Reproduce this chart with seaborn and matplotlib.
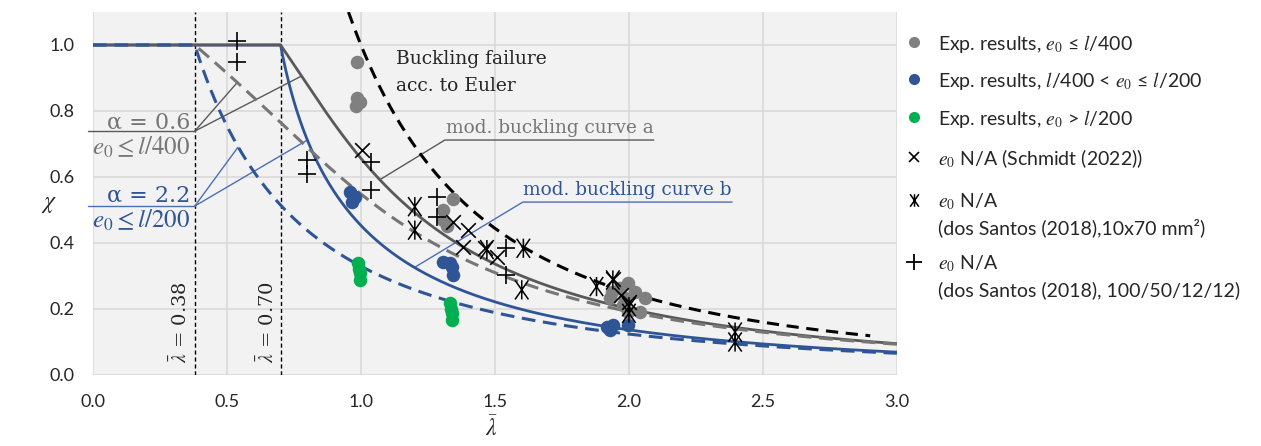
import numpy as np
import pandas as pd
import matplotlib
matplotlib.use("Agg")
import matplotlib.pyplot as plt
import seaborn as sns
from matplotlib.lines import Line2D
from matplotlib.path import Path

gray_lam = [0.986, 0.986, 0.996, 0.981, 1.345, 1.307, 1.307, 1.320,
            1.997, 1.966, 1.935, 1.929, 2.022, 2.060, 1.979, 2.040, 1.997, 1.985]
gray_chi = [0.949, 0.838, 0.828, 0.815, 0.532, 0.500, 0.470, 0.450,
            0.278, 0.263, 0.252, 0.232, 0.252, 0.232, 0.212, 0.192, 0.192, 0.232]

blue_lam = [0.959, 0.978, 0.965, 1.307, 1.332, 1.345, 1.338, 1.917, 1.940, 1.997, 1.930]
blue_chi = [0.556, 0.540, 0.525, 0.343, 0.338, 0.303, 0.328, 0.146, 0.152, 0.152, 0.136]

green_lam = [0.990, 0.996, 0.996, 0.993, 1.332, 1.338, 1.338, 1.335]
green_chi = [0.338, 0.308, 0.288, 0.320, 0.217, 0.187, 0.167, 0.200]

schmidt_lam = [1.003, 1.345, 1.400, 1.382, 1.463, 1.506, 1.940, 1.972, 2.000]
schmidt_chi = [0.682, 0.465, 0.440, 0.389, 0.384, 0.359, 0.290, 0.242, 0.220]

santos_a_lam = [1.201, 1.201, 1.470, 1.606, 1.600, 1.879, 1.940, 2.000, 2.000, 2.396, 2.396]
santos_a_chi = [0.510, 0.439, 0.380, 0.384, 0.258, 0.268, 0.288, 0.207, 0.187, 0.130, 0.100]

santos_b_lam = [0.538, 0.538, 0.800, 0.800, 1.036, 1.036, 1.282, 1.282, 1.543, 1.543]
santos_b_chi = [1.013, 0.949, 0.650, 0.610, 0.646, 0.560, 0.540, 0.480, 0.384, 0.303]

# --- design curve parameters (as labelled in the figure) ---------------------
alpha_a = 0.6
alpha_b = 2.2
lam0_short = 0.38
lam0_long = 0.70
euler_end = 2.9

GRAY = "#595959"
GRAY_D = "#767676"
BLUE = "#2F5597"
BLUE_L = "#4A6FB5"
GREEN = "#00B050"
DOT_GRAY = "#808080"


def buckling_curve(lam, alpha, lam0):
    phi = 0.5 * (1 + alpha * (lam - lam0) + lam ** 2)
    chi = 1.0 / (phi + np.sqrt(np.maximum(phi ** 2 - lam ** 2, 0)))
    return np.where(lam <= lam0, 1.0, np.minimum(chi, 1.0))


sns.set_theme(style="whitegrid", rc={
    "axes.facecolor": "#F2F2F2",
    "grid.color": "#D9D9D9",
    "grid.linewidth": 1.2,
    "axes.edgecolor": "#D9D9D9",
})
plt.rcParams["font.family"] = ["Lato", "DejaVu Sans"]

fig = plt.figure(figsize=(12.61, 4.46), dpi=100)
ax = fig.add_axes([0.0737, 0.1592, 0.6376, 0.8139])
for s in ax.spines.values():
    s.set_visible(False)

lam = np.linspace(0, 3.0, 901)
curves = pd.DataFrame({
    "lam": lam,
    "b_solid": buckling_curve(lam, alpha_b, lam0_long),
    "a_solid": buckling_curve(lam, alpha_a, lam0_long),
    "a_dash": buckling_curve(lam, alpha_a, lam0_short),
    "b_dash": buckling_curve(lam, alpha_b, lam0_short),
})
lam_e = np.linspace(1 / np.sqrt(1.1), euler_end, 400)
euler = pd.DataFrame({"lam": lam_e, "chi": 1 / lam_e ** 2})

sns.lineplot(data=curves, x="lam", y="b_solid", color=BLUE, lw=2, ax=ax, zorder=3)
sns.lineplot(data=curves, x="lam", y="a_solid", color=GRAY, lw=2, ax=ax, zorder=3)
sns.lineplot(data=curves, x="lam", y="a_dash", color=GRAY_D, lw=2.2, ax=ax, zorder=3,
             linestyle=(0, (4.5, 2.5)))
sns.lineplot(data=curves, x="lam", y="b_dash", color=BLUE, lw=2.2, ax=ax, zorder=3,
             linestyle=(0, (4.5, 2.5)))
sns.lineplot(data=euler, x="lam", y="chi", color="black", lw=2.2, ax=ax, zorder=3,
             linestyle=(0, (4, 2.5)))

# vertical limits of the plateau
for xv in (lam0_short, lam0_long):
    ax.axvline(xv, color="black", lw=1, linestyle=(0, (3, 2)), zorder=2)

# --- scatter points ----------------------------------------------------------
ast_path = Path([(-0.7, -1), (0.7, 1), (-0.7, 1), (0.7, -1), (0, -1), (0, 1)],
                [Path.MOVETO, Path.LINETO, Path.MOVETO, Path.LINETO, Path.MOVETO, Path.LINETO])

sns.scatterplot(x=gray_lam, y=gray_chi, color=DOT_GRAY, s=95, linewidth=0, ax=ax, zorder=4)
sns.scatterplot(x=blue_lam, y=blue_chi, color=BLUE, s=95, linewidth=0, ax=ax, zorder=4)
sns.scatterplot(x=green_lam, y=green_chi, color=GREEN, s=95, linewidth=0, ax=ax, zorder=4)
sns.scatterplot(x=schmidt_lam, y=schmidt_chi, marker="x", color="black", s=110,
                linewidth=1.2, ax=ax, zorder=5)
ax.scatter(santos_a_lam, santos_a_chi, marker=ast_path, facecolors="none",
           edgecolors="black", s=190, linewidths=1.1, zorder=5)
sns.scatterplot(x=santos_b_lam, y=santos_b_chi, marker="+", color="black", s=150,
                linewidth=1.2, ax=ax, zorder=5)

ax.set_xlim(0, 3.0)
ax.set_ylim(0, 1.1)
ax.set_xticks(np.arange(0, 3.01, 0.5))
ax.set_yticks(np.arange(0, 1.01, 0.2))
ax.xaxis.set_major_formatter(matplotlib.ticker.FormatStrFormatter("%.1f"))
ax.yaxis.set_major_formatter(matplotlib.ticker.FormatStrFormatter("%.1f"))
ax.tick_params(axis="x", length=0, pad=14, labelsize=13, colors="#262626")
ax.tick_params(axis="y", length=0, pad=13, labelsize=13, colors="#262626")
ax.set_xlabel(r"$\bar{\lambda}$", fontsize=17, math_fontfamily="stix", va="center")
ax.set_ylabel(r"$\chi$", fontsize=17, math_fontfamily="stix", rotation=0,
              va="center", ha="center")
ax.xaxis.set_label_coords(0.495, -0.145)
ax.yaxis.set_label_coords(-0.054, 0.47)

# --- annotations -------------------------------------------------------------
serif = "DejaVu Serif"
ax.text(0.325, 0.035, r"$\bar{\lambda}$ = 0.38", rotation=90, fontsize=14,
        family=serif, math_fontfamily="stix", ha="center", va="bottom")
ax.text(0.649, 0.035, r"$\bar{\lambda}$ = 0.70", rotation=90, fontsize=14,
        family=serif, math_fontfamily="stix", ha="center", va="bottom")

ax.text(1.13, 0.957, "Buckling failure", fontsize=13.5, family=serif, va="center")
ax.text(1.13, 0.877, "acc. to Euler", fontsize=13.5, family=serif, va="center")

# alpha = 0.6 group
ax.text(0.362, 0.765, "α = 0.6", fontsize=16, family=serif, color=GRAY_D,
        ha="right", va="center")
ax.text(0.362, 0.690, r"$e_0 \leq l/400$", fontsize=18, color=GRAY_D,
        math_fontfamily="stix", ha="right", va="center")
ax.plot([-0.02, lam0_short], [0.739, 0.739], color=GRAY, lw=1, clip_on=False, zorder=2)
ax.plot([lam0_short, 0.537], [0.739, 0.885], color=GRAY, lw=1, zorder=2)
ax.plot([lam0_short, 0.776], [0.739, 0.905], color=GRAY, lw=1, zorder=2)

# alpha = 2.2 group
ax.text(0.362, 0.545, "α = 2.2", fontsize=16, family=serif, color=BLUE,
        ha="right", va="center")
ax.text(0.362, 0.468, r"$e_0 \leq l/200$", fontsize=18, color=BLUE,
        math_fontfamily="stix", ha="right", va="center")
ax.plot([-0.02, lam0_short], [0.512, 0.512], color=BLUE_L, lw=1, clip_on=False, zorder=2)
ax.plot([lam0_short, 0.541], [0.512, 0.690], color=BLUE_L, lw=1, zorder=2)
ax.plot([lam0_short, 0.800], [0.512, 0.712], color=BLUE_L, lw=1, zorder=2)

# curve labels with underline leaders
ax.text(1.317, 0.722, "mod. buckling curve a", fontsize=13.3, family=serif, color=GRAY_D,
        va="bottom")
ax.plot([1.071, 1.313, 2.093], [0.592, 0.712, 0.712], color=GRAY, lw=1, zorder=2)
ax.text(1.604, 0.534, "mod. buckling curve b", fontsize=13.3, family=serif, color=BLUE,
        va="bottom")
ax.plot([1.200, 1.604, 2.385], [0.326, 0.524, 0.524], color=BLUE_L, lw=1, zorder=2)

# --- legend (drawn by hand so markers sit on the first text line) -------------
H = 446.0
mx, tx = 914 / 1261, 938 / 1261
legend_rows = [
    (42, dict(marker="o", color=DOT_GRAY, ms=8, mew=0),
     [r"Exp. results, $e_0$ ≤ $l$/400"]),
    (79, dict(marker="o", color=BLUE, ms=8, mew=0),
     [r"Exp. results, $l$/400 < $e_0$ ≤ $l$/200"]),
    (117, dict(marker="o", color=GREEN, ms=8, mew=0),
     [r"Exp. results, $e_0$ > $l$/200"]),
    (157, dict(marker="x", color="black", ms=7, mew=1.2),
     [r"$e_0$ N/A (Schmidt (2022))"]),
    (200, dict(marker=ast_path, color="black", mfc="none", ms=9, mew=1.1),
     [r"$e_0$ N/A", "(dos Santos (2018),10x70 mm²)"]),
    (262, dict(marker="+", color="black", ms=12, mew=1.3),
     [r"$e_0$ N/A", "(dos Santos (2018), 100/50/12/12)"]),
]
for py, mk, lines in legend_rows:
    fig.add_artist(Line2D([mx], [1 - py / H], linestyle="none",
                          transform=fig.transFigure, **mk))
    for i, line in enumerate(lines):
        fig.text(tx, 1 - (py + 2 + i * 26) / H, line, fontsize=14, color="#262626",
                 math_fontfamily="stix", va="center", ha="left")

fig.savefig("out.png", dpi=100)
